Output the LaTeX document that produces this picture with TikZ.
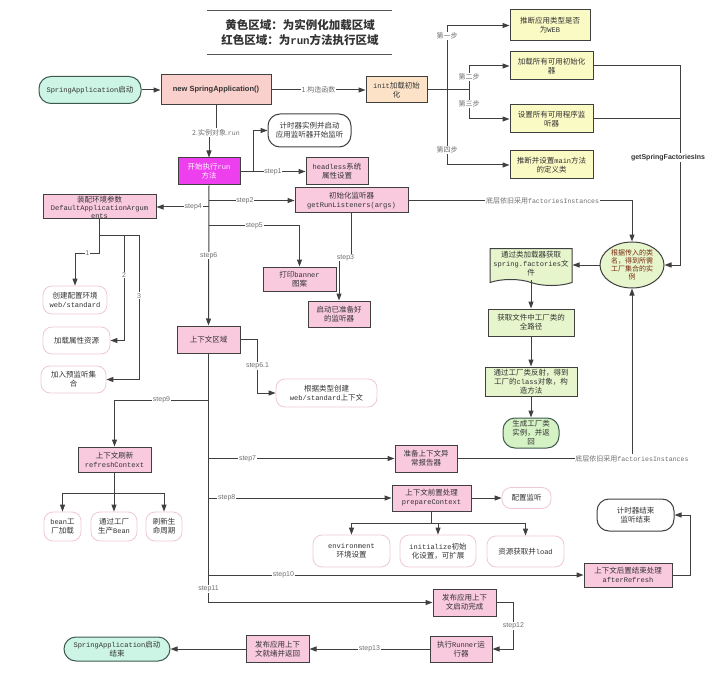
\documentclass[tikz,border=0pt]{standalone}
\usepackage{fontspec}
\setmainfont{Noto Sans CJK SC}
\newfontfamily\monof{Liberation Mono}[Scale=0.94]
\newfontfamily\sansf{Liberation Sans}
\usetikzlibrary{arrows.meta, shapes.geometric, shapes.symbols}
\definecolor{linegray}{HTML}{404040}
\definecolor{labelgray}{HTML}{707070}
\definecolor{textdark}{HTML}{333333}
\definecolor{titlegray}{HTML}{555555}
\definecolor{runpink}{HTML}{F9C9DD}
\definecolor{newpink}{HTML}{F9D0CC}
\definecolor{initorange}{HTML}{FCE3C8}
\definecolor{inityellow}{HTML}{FAFAC4}
\definecolor{facgreen}{HTML}{E6F5CB}
\definecolor{gengreen}{HTML}{D5F2C5}
\definecolor{termgreen}{HTML}{CDF5E6}
\definecolor{termline}{HTML}{3D5A4F}
\definecolor{runmag}{HTML}{EE3FEE}
\definecolor{softpink}{HTML}{EFC8D4}
\definecolor{ellred}{HTML}{7A2A12}
\newcommand{\mono}[1]{{\monof #1}}

\begin{document}
\begin{tikzpicture}[x=1pt, y=-1pt,
    font=\fontsize{7.5}{9}\selectfont,
    wh/.style 2 args={minimum width=#1, minimum height=#2},
    box/.style={rectangle, draw=linegray, line width=1pt, align=center,
                inner sep=1pt, text=textdark},
    runbox/.style={box, fill=runpink},
    ylbox/.style={box, fill=inityellow},
    gnbox/.style={box, fill=facgreen},
    softbox/.style={rectangle, rounded corners=9pt, draw=softpink, line width=0.8pt,
                    fill=white, align=center, inner sep=1pt, text=textdark},
    timerbox/.style={softbox, draw=linegray, line width=1pt, rounded corners=12pt},
    termbox/.style={rectangle, rounded corners=12pt, draw=termline, line width=1pt,
                    fill=termgreen, align=center, inner sep=1pt, text=textdark},
    arrow/.style={-{Triangle[length=7pt, width=5pt]}, line width=1pt, linegray},
    line/.style={line width=1pt, linegray},
    lbl/.style={fill=white, inner sep=0.8pt, text=labelgray, font=\fontsize{7}{8}\selectfont},
    steplbl/.style={lbl, font=\sansf\fontsize{7}{8}\selectfont},
  ]
  \useasboundingbox (0,0) rectangle (720,679);

  \draw[line, titlegray] (207,11) -- (392,11);
  \draw[line, titlegray] (207,55) -- (392,55);
  \node[font=\bfseries\fontsize{11.5}{15}\selectfont, align=center, text=textdark] (title) at (300,32.5)
    {黄色区域：为实例化加载区域\\红色区域：为\mono{run}方法执行区域};

  \node[termbox, wh={102}{27}] (start) at (90,90) {\mono{SpringApplication}启动};
  \node[box, fill=newpink, wh={110}{30}, font=\sansf\bfseries\fontsize{7.5}{9}\selectfont] (newsa) at (216,90) {new SpringApplication()};
  \node[box, fill=initorange, wh={61}{26}] (init) at (396.5,90) {\mono{init}加载初始\\化};
  \node[ylbox, wh={80}{31}] (web) at (550,25.5) {推断应用类型是否\\为\mono{WEB}};
  \node[ylbox, wh={83}{28}] (initz) at (551.5,66) {加载所有可用初始化\\器};
  \node[ylbox, wh={83}{28}] (lsnr) at (551.5,119) {设置所有可用程序监\\听器};
  \node[ylbox, wh={83}{28}] (mainc) at (551.5,165) {推断并设置\mono{main}方法\\的定义类};

  \node[ellipse, draw=linegray, line width=1pt, fill=facgreen, inner sep=1pt, wh={64}{46}, align=center,
        text=ellred, font=\fontsize{7}{8}\selectfont] (ellip) at (632,265) {根据传入的类\\名，得到所需\\工厂集合的实\\例};
  \node[tape, tape bend top=none, tape bend bottom=out and in, tape bend height=6pt, draw=linegray,
        line width=1pt, fill=facgreen, inner sep=1pt, wh={82}{37}, align=center, text=textdark] (doc) at (531,264)
        {通过类加载器获取\\\mono{spring.factories}文\\件};
  \node[gnbox, wh={86}{27}] (fpath) at (531,322.5) {获取文件中工厂类的\\全路径};
  \node[gnbox, wh={92}{29}] (refl) at (531,381.5) {通过工厂类反射，得到\\工厂的\mono{class}对象，构\\造方法};
  \node[termbox, fill=gengreen, wh={56}{30}] (gen) at (531,433) {生成工厂类\\实例，并返\\回};

  \node[timerbox, wh={83}{33}] (timer) at (309.5,130.5) {计时器实例并启动\\应用监听器开始监听};
  \node[box, fill=runmag, text=white, wh={62}{27}] (runst) at (209,171.5) {开始执行\mono{run}\\方法};
  \node[runbox, wh={62}{27}] (hdls) at (337,171.5) {\mono{headless}系统\\属性设置};
  \node[runbox, wh={113}{25}] (getrl) at (351.5,200.5) {初始化监听器\\\mono{getRunListeners(args)}};
  \node[runbox, wh={113}{24}, font=\fontsize{7.5}{8}\selectfont, inner sep=0pt] (daa) at (99.5,207)
    {装配环境参数\\\mono{DefaultApplicationArgum}\\\mono{ents}};
  \node[runbox, wh={73}{24}] (banner) at (299.5,279) {打印\mono{banner}\\图案};
  \node[runbox, wh={62}{26}] (listn) at (339,314) {启动已准备好\\的监听器};
  \node[softbox, wh={64}{28}] (envb) at (75,300) {创建配置环境\\\mono{web/standard}};
  \node[softbox, wh={67}{27}] (propb) at (76.5,340.5) {加载属性资源};
  \node[softbox, wh={65}{27}] (preb) at (73.5,379.5) {加入预监听集\\合};
  \node[runbox, wh={63}{27}] (ctx) at (208.5,339.5) {上下文区域};
  \node[softbox, wh={101}{28}] (wsctx) at (326.5,393) {根据类型创建\\\mono{web/standard}上下文};
  \node[runbox, wh={73}{25}] (rfsh) at (114.5,459.5) {上下文刷新\\\mono{refreshContext}};
  \node[softbox, wh={37}{29}] (bnf) at (62.5,526.5) {\mono{bean}工\\厂加载};
  \node[softbox, wh={46}{29}] (bnp) at (114,526.5) {通过工厂\\生产\mono{Bean}};
  \node[softbox, wh={36}{29}] (lfc) at (164,526.5) {刷新生\\命周期};
  \node[runbox, wh={62}{27}] (rptr) at (426,458.5) {准备上下文异\\常报告器};
  \node[runbox, wh={79}{26}] (prep) at (431.5,498) {上下文前置处理\\\mono{prepareContext}};
  \node[softbox, wh={49}{21}] (cfg) at (526.5,498) {配置监听};
  \node[softbox, wh={77}{32}] (envs) at (351.5,551) {\mono{environment}\\环境设置};
  \node[softbox, wh={76}{32}] (inis) at (438,551) {\mono{initialize}初始\\化设置，可扩展};
  \node[softbox, wh={77}{31}] (ldr) at (525.5,551.5) {资源获取并\mono{load}};
  \node[runbox, wh={88}{24}] (aftr) at (628,575) {上下文后置结束处理\\\mono{afterRefresh}};
  \node[timerbox, wh={77}{32}] (tmend) at (635.5,515) {计时器结束\\监听结束};
  \node[runbox, wh={63}{27}] (pubst) at (464.5,602.5) {发布应用上下\\文启动完成};
  \node[runbox, wh={62}{26}] (runr) at (461,649) {执行\mono{Runner}运\\行器};
  \node[runbox, wh={63}{27}] (pubrd) at (277.5,649) {发布应用上下\\文就绪并返回};
  \node[termbox, wh={106}{24}] (finish) at (117,649) {\mono{SpringApplication}启动\\结束};

  \draw[arrow] (start) -- (newsa);
  \draw[arrow] (newsa) -- (init) node[lbl, midway] {1.构造函数};
  \coordinate (br1) at (447,90);
  \coordinate (br2) at (469,90);
  \draw[line] (init.east) -- (br2);
  \draw[arrow] (br1) |- (web.west) node[lbl, pos=0.42] {第一步};
  \draw[arrow] (br1) |- (mainc.west) node[lbl, pos=0.4] {第四步};
  \draw[arrow] (br2) |- (initz.west) node[lbl, pos=0.27] {第二步};
  \draw[arrow] (br2) |- (lsnr.west) node[lbl, pos=0.24] {第三步};

  \coordinate (gsf) at (680,265);
  \draw[arrow] (initz.east) -| node[pos=0.73, font=\sansf\bfseries\fontsize{7}{8}\selectfont, fill=white,
        inner sep=0.8pt, text=textdark, xshift=-12pt] {getSpringFactoriesIns} (gsf) -- (ellip.east);
  \draw[line] (lsnr.east) -- (lsnr.east -| gsf);
  \draw[arrow] (getrl.east) -| (ellip.north) node[lbl, pos=0.3] {底层依旧采用\mono{factoriesInstances}};
  \draw[arrow] (rptr.east) -| (ellip.south) node[lbl, pos=0.5] {底层依旧采用\mono{factoriesInstances}};
  \draw[arrow] (ellip.west) -- (ellip.west -| doc.east);
  \draw[arrow] (doc.south) -- (fpath.north);
  \draw[arrow] (fpath) -- (refl);
  \draw[arrow] (refl) -- (gen);

  \draw[arrow] (newsa.south) -- ++(0,27) node[lbl] {2.实例对象.\mono{run}} -| (runst.north);
  \draw[arrow] (runst.east) -- ++(13,0) |- (timer.west);
  \draw[arrow] (runst.east) -- (hdls.west) node[steplbl, midway] {step1};
  \draw[arrow] (runst.south) -- (ctx.north) node[steplbl, midway] {step6};
  \draw[arrow] (runst.south |- getrl.west) -- (getrl.west) node[steplbl, pos=0.42] {step2};
  \draw[arrow] (runst.south |- daa.east) -- (daa.east) node[steplbl, pos=0.3] {step4};
  \coordinate (s5) at (209,226);
  \draw[arrow] (s5) -| (banner.north) node[steplbl, pos=0.25] {step5};
  \draw[arrow] (getrl.south) -- ++(0,44) node[steplbl, xshift=-6pt] {step3} -| (listn.north);

  \coordinate (dj) at (99.5,235);
  \coordinate (d2) at (124,235);
  \coordinate (d3) at (139,235);
  \draw[line] (daa.south) |- (d3);
  \draw[arrow] (dj) -- ++(0,18) -| node[steplbl, pos=0.25] {1} (envb.north);
  \draw[arrow] (d2) |- (propb.east) node[steplbl, pos=0.19] {2};
  \draw[arrow] (d3) |- (preb.east) node[steplbl, pos=0.21] {3};

  \draw[arrow] (ctx.east) -- ++(17,0) |- (wsctx.west) node[steplbl, pos=0.25] {step6.1};
  \draw[arrow] (ctx.south) |- (pubst.west) node[steplbl, pos=0.473] {step11};
  \coordinate (s9) at (208.5,400);
  \draw[arrow] (s9) -| (rfsh.north) node[steplbl, pos=0.25] {step9};
  \draw[arrow] (ctx.south |- rptr.west) -- (rptr.west) node[steplbl, pos=0.21] {step7};
  \draw[arrow] (ctx.south |- prep.west) -- (prep.west) node[steplbl, pos=0.1] {step8};
  \draw[arrow] (ctx.south |- aftr.west) -- (aftr.west) node[steplbl, pos=0.2] {step10};

  \coordinate (rj) at (114.5,493);
  \draw[line] (rfsh.south) -- (rj);
  \draw[line] (bnf.north |- rj) -- (lfc.north |- rj);
  \foreach \c in {bnf, bnp, lfc}
    \draw[arrow] (\c.north |- rj) -- (\c.north);

  \draw[arrow] (prep) -- (cfg);
  \coordinate (pj) at (431.5,523);
  \draw[line] (prep.south) -- (pj);
  \draw[line] (envs.north |- pj) -- (ldr.north |- pj);
  \foreach \c in {envs, inis, ldr}
    \draw[arrow] (\c.north |- pj) -- (\c.north);

  \draw[arrow] (aftr.east) -- ++(18,0) |- (tmend.east);
  \draw[arrow] (pubst.east) -- ++(17,0) |- (runr.east) node[steplbl, pos=0.25] {step12};
  \draw[arrow] (runr) -- (pubrd) node[steplbl, midway] {step13};
  \draw[arrow] (pubrd) -- (finish);
\end{tikzpicture}
\end{document}
